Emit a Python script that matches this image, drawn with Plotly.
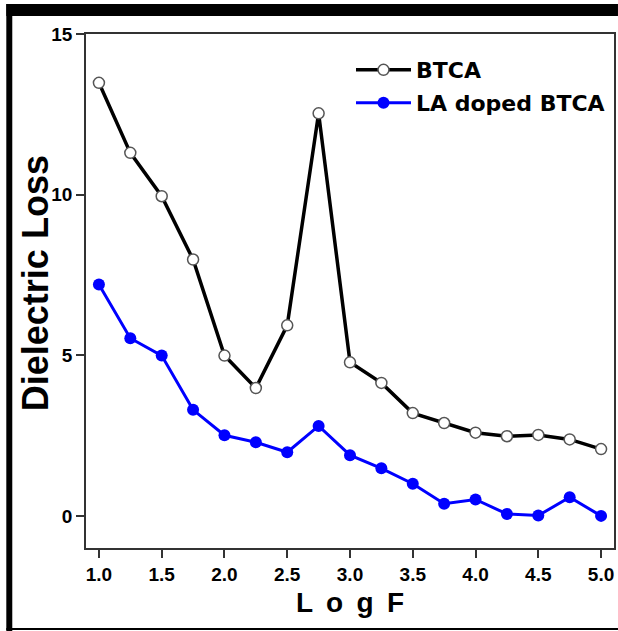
import plotly.graph_objects as go

log_f = [1.0, 1.25, 1.5, 1.75, 2.0, 2.25, 2.5, 2.75, 3.0, 3.25, 3.5, 3.75, 4.0, 4.25, 4.5, 4.75, 5.0]
btca = [13.48, 11.3, 9.95, 7.98, 4.99, 3.98, 5.93, 12.53, 4.78, 4.14, 3.2, 2.89, 2.59, 2.48, 2.52, 2.38, 2.08]
la_doped = [7.2, 5.53, 4.99, 3.3, 2.51, 2.29, 1.98, 2.8, 1.89, 1.48, 1.0, 0.38, 0.51, 0.06, 0.01, 0.58, 0.0]
x_ticks = [1.0, 1.5, 2.0, 2.5, 3.0, 3.5, 4.0, 4.5, 5.0]
y_ticks = [0, 5, 10, 15]

W, H = 618, 631
ML, MR, MT, MB = 86, 2, 34, 83
PW, PH = W - ML - MR, H - MT - MB

def px(x):
    return (x - ML) / PW

def py(y):
    return (H - MB - y) / PH

fig = go.Figure()
fig.add_trace(go.Scatter(
    x=log_f, y=btca, mode="lines+markers", name="BTCA", legend="legend",
    line=dict(color="black", width=3.5),
    marker=dict(symbol="circle", size=11, color="white", line=dict(color="#555555", width=1.5)),
))
fig.add_trace(go.Scatter(
    x=log_f, y=la_doped, mode="lines+markers", name="LA doped BTCA", legend="legend2",
    line=dict(color="#0000ff", width=3),
    marker=dict(symbol="circle", size=12, color="#0000ff"),
))

tickfont = dict(family="Liberation Sans", size=19, color="black", weight="bold")
legfont = dict(family="DejaVu Sans", size=22, color="black", weight="bold")

fig.update_layout(
    width=W, height=H,
    margin=dict(l=ML, r=MR, t=MT, b=MB),
    paper_bgcolor="white", plot_bgcolor="white",
    showlegend=True,
    legend=dict(x=px(352), y=py(70), xanchor="left", yanchor="middle", itemwidth=55,
                font=legfont, bgcolor="rgba(0,0,0,0)", borderwidth=0),
    legend2=dict(x=px(352), y=py(103), xanchor="left", yanchor="middle", itemwidth=55,
                 font=legfont, bgcolor="rgba(0,0,0,0)", borderwidth=0),
    xaxis=dict(
        range=[0.897, 5.103], tickvals=x_ticks, tickformat=".1f",
        showgrid=False, zeroline=False, showline=True, mirror=True,
        linecolor="#333333", linewidth=1.5,
        ticks="outside", ticklen=8, tickwidth=2, tickcolor="#333333",
        tickfont=tickfont,
        title=dict(text="L \u2009o \u2009g \u2009F", standoff=9,
                   font=dict(family="Liberation Sans", size=28, color="black", weight="bold")),
    ),
    yaxis=dict(
        range=[-1, 15], tickvals=y_ticks,
        showgrid=False, zeroline=False, showline=True, mirror=True,
        linecolor="#333333", linewidth=1.5,
        ticks="outside", ticklen=8, tickwidth=1.5, tickcolor="#333333",
        tickfont=tickfont,
    ),
    annotations=[
        dict(text="Dielectric Loss", xref="paper", yref="paper", x=px(35), y=py(283),
             xanchor="center", yanchor="middle", textangle=-90, showarrow=False,
             font=dict(family="Liberation Sans", size=36, color="black", weight="bold")),
    ],
    shapes=[
        dict(type="rect", xref="paper", yref="paper", x0=px(6), x1=px(620), y0=py(16), y1=py(4),
             fillcolor="black", line=dict(width=0), layer="above"),
        dict(type="rect", xref="paper", yref="paper", x0=px(6), x1=px(12), y0=py(633), y1=py(4),
             fillcolor="black", line=dict(width=0), layer="above"),
        dict(type="rect", xref="paper", yref="paper", x0=px(6), x1=px(620), y0=py(630), y1=py(628),
             fillcolor="black", line=dict(width=0), layer="above"),
    ],
)

fig.write_html("out.html")
